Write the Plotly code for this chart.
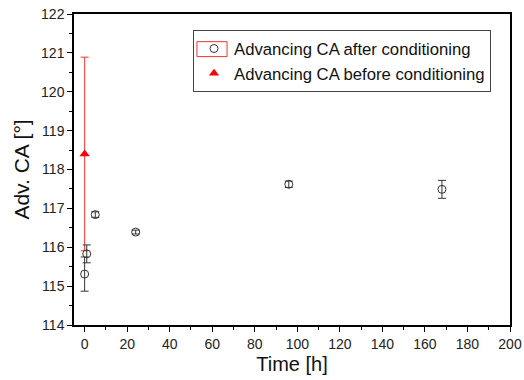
import plotly.graph_objects as go

# Advancing CA after conditioning
after_time = [0, 1, 5, 24, 96, 168]
after_ca = [115.31, 115.83, 116.84, 116.39, 117.62, 117.49]
after_err = [0.44, 0.23, 0.07, 0.05, 0.08, 0.23]

# Advancing CA before conditioning
before_time = [0]
before_ca = [118.40]
before_err = [2.49]

x_ticks = [0, 20, 40, 60, 80, 100, 120, 140, 160, 180, 200]
y_ticks = [114, 115, 116, 117, 118, 119, 120, 121, 122]

FONT = "Arial, Liberation Sans, sans-serif"

fig = go.Figure()
fig.add_trace(go.Scatter(
    x=before_time, y=before_ca, mode="markers",
    name="Advancing CA before conditioning",
    marker=dict(symbol="triangle-up", size=9, color="#ff0000"),
    error_y=dict(type="data", array=before_err, visible=True,
                 color="#ff3333", thickness=1, width=4),
))
fig.add_trace(go.Scatter(
    x=after_time, y=after_ca, mode="markers",
    name="Advancing CA after conditioning",
    marker=dict(symbol="circle-open", size=8, color="#333333",
                line=dict(width=1, color="#333333")),
    error_y=dict(type="data", array=after_err, visible=True,
                 color="#333333", thickness=1, width=4),
))

fig.update_layout(
    width=524, height=380,
    margin=dict(l=74, r=14, t=14, b=55, autoexpand=False),
    paper_bgcolor="white", plot_bgcolor="white",
    font=dict(family=FONT, color="#222222"),
    showlegend=True,
    legend=dict(
        x=0.273, y=0.948, xanchor="left", yanchor="top",
        bordercolor="#444444", borderwidth=1, bgcolor="rgba(0,0,0,0)",
        font=dict(size=16.7, family=FONT, color="#111111"),
        traceorder="reversed", tracegroupgap=0,
        itemwidth=30,
    ),
    xaxis=dict(
        range=[-5, 200], tickmode="array", tickvals=x_ticks,
        ticks="outside", ticklen=5, tickwidth=1, tickcolor="black",
        minor=dict(dtick=10, ticks="outside", ticklen=3, tickcolor="black"),
        showline=True, linecolor="black", linewidth=1.5, mirror=True,
        showgrid=False, zeroline=False, automargin=False,
        tickfont=dict(size=14, family=FONT, color="#222222"),
        title=dict(text="Time [h]", font=dict(size=20, family=FONT, color="#111111"), standoff=6),
    ),
    yaxis=dict(
        range=[114, 122], tickmode="array", tickvals=y_ticks,
        ticks="outside", ticklen=5, tickwidth=1, tickcolor="black",
        minor=dict(dtick=0.5, ticks="outside", ticklen=3, tickcolor="black"),
        showline=True, linecolor="black", linewidth=1.5, mirror=True,
        showgrid=False, zeroline=False, automargin=False,
        tickfont=dict(size=14, family=FONT, color="#222222"),
        title=dict(text="Adv. CA [°]", font=dict(size=21, family=FONT, color="#111111"), standoff=6),
    ),
)

# red selection box around first legend symbol (as in the original)
fig.add_shape(type="rect", xref="paper", yref="paper",
              x0=0.282, x1=0.351, y0=0.863, y1=0.911,
              line=dict(color="#ee3333", width=1), fillcolor="rgba(0,0,0,0)")

fig.write_html("out.html", config={"displayModeBar": False},
               post_script="document.body.style.margin='0';")
